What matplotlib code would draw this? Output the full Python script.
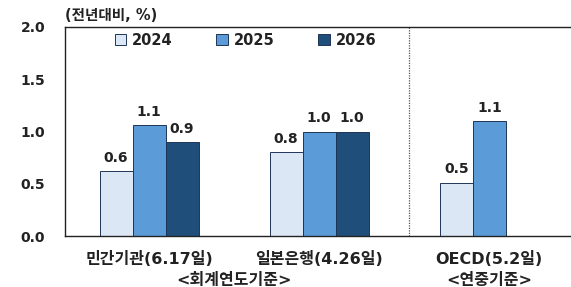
import matplotlib
matplotlib.use("Agg")
import matplotlib.pyplot as plt
from matplotlib.patches import Patch

plt.rcParams['font.family'] = ['DejaVu Sans', 'Noto Sans CJK KR']

groups = ["민간기관(6.17일)", "일본은행(4.26일)", "OECD(5.2일)"]
years = ["2024", "2025", "2026"]
vals_2024 = [0.62, 0.80, 0.51]
vals_2025 = [1.06, 1.00, 1.10]
vals_2026 = [0.90, 1.00, None]
labels_2024 = ["0.6", "0.8", "0.5"]
labels_2025 = ["1.1", "1.0", "1.1"]
labels_2026 = ["0.9", "1.0", None]

COLORS = ["#DCE7F5", "#5B9BD8", "#1F4E7A"]
EDGE = "#1F3556"
TXT = "#222222"

fig = plt.figure(figsize=(5.71, 2.87), dpi=100)
ax = fig.add_axes([65 / 571, 1 - 236 / 287, 1 - 65 / 571, 209 / 287])

w = 0.194
series = [(vals_2024, labels_2024), (vals_2025, labels_2025), (vals_2026, labels_2026)]
for k, (vals, labs) in enumerate(series):
    for i, (v, lab) in enumerate(zip(vals, labs)):
        if v is None:
            continue
        x = i + (k - 1) * w
        ax.bar(x, v, width=w, color=COLORS[k], edgecolor=EDGE, linewidth=0.7)
        ax.text(x, v + 0.06, lab, ha="center", va="bottom", fontsize=10,
                fontweight="bold", color=TXT)

ax.axvline(1.53, color="#555555", linestyle=(0, (1, 1)), linewidth=0.9)

ax.set_xlim(-0.494, 2.48)
ax.set_ylim(0, 2.0)
ax.set_yticks([0, 0.5, 1.0, 1.5, 2.0])
ax.set_yticklabels(["0.0", "0.5", "1.0", "1.5", "2.0"], fontsize=10, fontweight="bold")
ax.tick_params(axis="y", length=0, pad=32, colors=TXT)
for t in ax.get_yticklabels():
    t.set_ha("left")
ax.set_xticks([])
ax.spines["right"].set_visible(False)
for s in ["left", "top", "bottom"]:
    ax.spines[s].set_color(TXT)
    ax.spines[s].set_linewidth(1.0)

# category labels, two lines
for i, g in enumerate(groups):
    ax.text(i, -0.14, g, ha="center", va="top", fontsize=11.5, fontweight="bold",
            color=TXT, clip_on=False)
ax.text(0.5, -0.35, "<회계연도기준>", ha="center", va="top", fontsize=11.5,
        fontweight="bold", color=TXT, clip_on=False)
ax.text(2, -0.35, "<연중기준>", ha="center", va="top", fontsize=11.5,
        fontweight="bold", color=TXT, clip_on=False)

fig.text(65 / 571, 1 - 15 / 287, "(전년대비, %)", ha="left", va="center",
         fontsize=10.5, fontweight="bold", color=TXT)

handles = [Patch(facecolor=c, edgecolor=EDGE, linewidth=0.7) for c in COLORS]
ax.legend(handles, years, loc="upper left", bbox_to_anchor=(0.072, 1.035), ncol=3,
          frameon=False, prop={"size": 10.5, "weight": "bold"}, handlelength=0.8,
          handleheight=0.8, columnspacing=3.0, handletextpad=0.4,
          labelcolor=TXT)

fig.savefig("out.png", dpi=100)
